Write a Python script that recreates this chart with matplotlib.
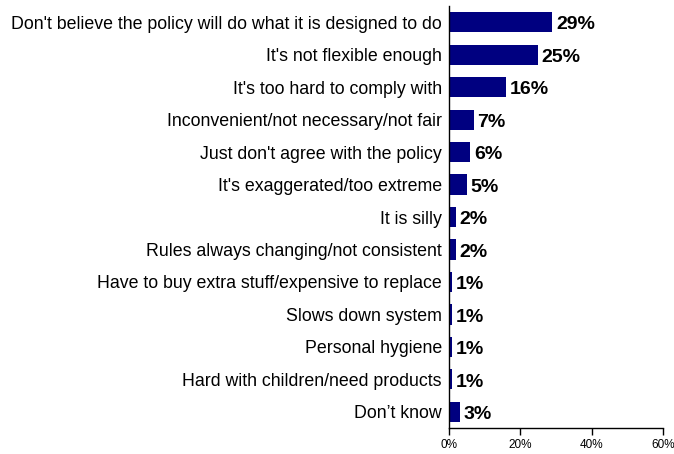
import matplotlib.pyplot as plt

plt.rcParams['font.family'] = ['Liberation Sans', 'DejaVu Sans']

reasons = [
    "Don't believe the policy will do what it is designed to do",
    "It's not flexible enough",
    "It's too hard to comply with",
    "Inconvenient/not necessary/not fair",
    "Just don't agree with the policy",
    "It's exaggerated/too extreme",
    "It is silly",
    "Rules always changing/not consistent",
    "Have to buy extra stuff/expensive to replace",
    "Slows down system",
    "Personal hygiene",
    "Hard with children/need products",
    "Don\u2019t know",
]
percent = [29, 25, 16, 7, 6, 5, 2, 2, 1, 1, 1, 1, 3]
xticks = [0, 20, 40, 60]

fig = plt.figure(figsize=(6.74, 4.54), dpi=100)
ax = fig.add_axes([0.666, 0.057, 0.318, 0.930])

ypos = list(range(len(reasons)))
ax.barh(ypos, percent, height=0.62, color='#000080')

for y, v in zip(ypos, percent):
    ax.text(v + 1.0, y + 0.08, f"{v}%", va='center', ha='left',
            fontsize=14, fontweight='bold', color='black')

ax.set_ylim(len(reasons) - 0.5, -0.5)
ax.set_xlim(0, 60)
ax.set_yticks(ypos)
ax.set_yticklabels(reasons, fontsize=12.8)
ax.set_xticks(xticks)
ax.set_xticklabels([f"{t}%" for t in xticks], fontsize=8.5)
ax.tick_params(axis='y', length=0, pad=5)
ax.tick_params(axis='x', length=5, direction='out', width=1, pad=3)

for side in ['top', 'right']:
    ax.spines[side].set_visible(False)
ax.spines['left'].set_linewidth(1)
ax.spines['bottom'].set_linewidth(1)

fig.savefig('out.png', dpi=100)
